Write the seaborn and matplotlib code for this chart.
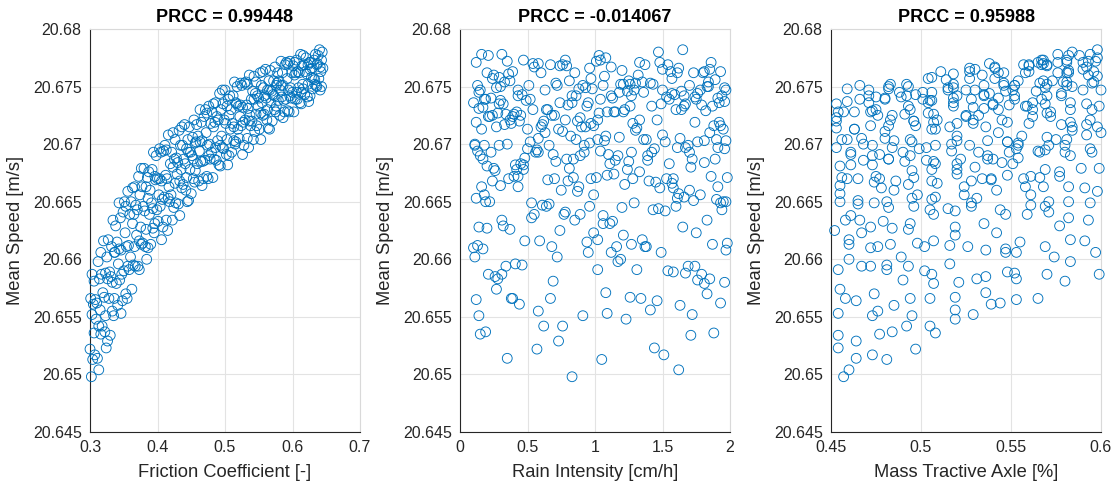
import matplotlib
matplotlib.use("Agg")
import matplotlib.pyplot as plt
import seaborn as sns
import pandas as pd

# Monte Carlo samples: three input parameters and the resulting mean speed
friction = [
    0.300, 0.301, 0.302, 0.303, 0.303, 0.304, 0.305, 0.306, 0.306, 0.307, 0.308, 0.309,
    0.310, 0.311, 0.312, 0.313, 0.313, 0.314, 0.315, 0.316, 0.316, 0.317, 0.318, 0.319,
    0.320, 0.321, 0.322, 0.323, 0.323, 0.324, 0.325, 0.326, 0.326, 0.327, 0.328, 0.329,
    0.330, 0.331, 0.332, 0.333, 0.333, 0.334, 0.335, 0.336, 0.336, 0.337, 0.338, 0.339,
    0.340, 0.341, 0.342, 0.343, 0.343, 0.344, 0.345, 0.346, 0.346, 0.347, 0.348, 0.349,
    0.350, 0.351, 0.352, 0.353, 0.353, 0.354, 0.355, 0.356, 0.356, 0.357, 0.358, 0.359,
    0.360, 0.361, 0.362, 0.363, 0.363, 0.364, 0.365, 0.366, 0.366, 0.367, 0.368, 0.369,
    0.370, 0.371, 0.372, 0.373, 0.373, 0.374, 0.375, 0.376, 0.376, 0.377, 0.378, 0.379,
    0.380, 0.381, 0.382, 0.383, 0.383, 0.384, 0.385, 0.386, 0.386, 0.387, 0.388, 0.389,
    0.390, 0.391, 0.392, 0.393, 0.393, 0.394, 0.395, 0.396, 0.396, 0.397, 0.398, 0.399,
    0.400, 0.401, 0.402, 0.403, 0.403, 0.404, 0.405, 0.406, 0.406, 0.407, 0.408, 0.409,
    0.410, 0.411, 0.412, 0.413, 0.413, 0.414, 0.415, 0.416, 0.416, 0.417, 0.418, 0.419,
    0.420, 0.421, 0.422, 0.423, 0.423, 0.424, 0.425, 0.426, 0.426, 0.427, 0.428, 0.429,
    0.430, 0.431, 0.432, 0.433, 0.433, 0.434, 0.435, 0.436, 0.436, 0.437, 0.438, 0.439,
    0.440, 0.441, 0.442, 0.443, 0.443, 0.444, 0.445, 0.446, 0.446, 0.447, 0.448, 0.449,
    0.450, 0.451, 0.452, 0.453, 0.453, 0.454, 0.455, 0.456, 0.456, 0.457, 0.458, 0.459,
    0.460, 0.461, 0.462, 0.463, 0.463, 0.464, 0.465, 0.466, 0.466, 0.467, 0.468, 0.469,
    0.470, 0.471, 0.472, 0.473, 0.473, 0.474, 0.475, 0.476, 0.476, 0.477, 0.478, 0.479,
    0.480, 0.481, 0.482, 0.483, 0.483, 0.484, 0.485, 0.486, 0.486, 0.487, 0.488, 0.489,
    0.490, 0.491, 0.492, 0.493, 0.493, 0.494, 0.495, 0.496, 0.496, 0.497, 0.498, 0.499,
    0.500, 0.501, 0.502, 0.503, 0.503, 0.504, 0.505, 0.506, 0.506, 0.507, 0.508, 0.509,
    0.510, 0.511, 0.512, 0.513, 0.513, 0.514, 0.515, 0.516, 0.516, 0.517, 0.518, 0.519,
    0.520, 0.521, 0.522, 0.523, 0.523, 0.524, 0.525, 0.526, 0.526, 0.527, 0.528, 0.529,
    0.530, 0.531, 0.532, 0.533, 0.533, 0.534, 0.535, 0.536, 0.536, 0.537, 0.538, 0.539,
    0.540, 0.541, 0.542, 0.543, 0.543, 0.544, 0.545, 0.546, 0.546, 0.547, 0.548, 0.549,
    0.550, 0.551, 0.552, 0.553, 0.553, 0.554, 0.555, 0.556, 0.556, 0.557, 0.558, 0.559,
    0.560, 0.561, 0.562, 0.563, 0.563, 0.564, 0.565, 0.566, 0.566, 0.567, 0.568, 0.569,
    0.570, 0.571, 0.572, 0.573, 0.573, 0.574, 0.575, 0.576, 0.576, 0.577, 0.578, 0.579,
    0.580, 0.581, 0.582, 0.583, 0.583, 0.584, 0.585, 0.586, 0.586, 0.587, 0.588, 0.589,
    0.590, 0.591, 0.592, 0.593, 0.593, 0.594, 0.595, 0.596, 0.596, 0.597, 0.598, 0.599,
    0.600, 0.601, 0.602, 0.603, 0.603, 0.604, 0.605, 0.606, 0.606, 0.607, 0.608, 0.609,
    0.610, 0.611, 0.612, 0.613, 0.613, 0.614, 0.615, 0.616, 0.616, 0.617, 0.618, 0.619,
    0.620, 0.621, 0.622, 0.623, 0.623, 0.624, 0.625, 0.626, 0.626, 0.627, 0.628, 0.629,
    0.630, 0.631, 0.632, 0.633, 0.633, 0.634, 0.635, 0.636, 0.636, 0.637, 0.638, 0.639,
    0.640, 0.641, 0.641, 0.642, 0.643, 0.643, 0.644, 0.645,
]

rain = [
    0.57, 1.34, 0.83, 1.72, 0.21, 1.05, 0.44, 1.88, 0.69, 1.51, 0.12, 1.23,
    1.93, 0.35, 1.17, 0.76, 1.62, 0.28, 1.41, 0.95, 0.15, 1.79, 0.62, 1.08,
    0.48, 1.26, 0.19, 1.67, 0.91, 1.44, 0.11, 1.85, 0.73, 1.02, 0.39, 1.58,
    1.71, 0.26, 1.38, 0.58, 1.96, 0.85, 0.14, 1.12, 0.67, 1.49, 0.32, 1.81,
    0.94, 1.63, 0.41, 1.29, 0.17, 1.76, 0.53, 1.09, 1.97, 0.31, 1.46, 0.78,
    1.54, 0.22, 0.99, 1.83, 0.64, 1.16, 0.38, 1.69, 0.87, 0.13, 1.31, 0.55,
    0.72, 1.95, 0.27, 1.11, 1.58, 0.46, 0.89, 1.37, 0.16, 1.74, 0.61, 1.21,
    1.43, 0.34, 1.86, 0.59, 1.02, 0.18, 1.65, 0.81, 1.27, 0.43, 1.98, 0.96,
    0.25, 1.52, 0.68, 1.91, 0.37, 1.19, 0.84, 1.61, 0.10, 1.33, 0.77, 1.70,
    1.87, 0.53, 1.24, 0.20, 1.47, 0.92, 1.75, 0.40, 1.06, 0.65, 1.39, 1.94,
    0.36, 1.13, 1.78, 0.50, 0.97, 1.60, 0.23, 1.35, 0.80, 1.90, 0.14, 1.04,
    1.66, 0.29, 1.09, 1.83, 0.57, 1.28, 0.74, 0.12, 1.50, 0.88, 1.97, 0.45,
    0.99, 1.42, 0.31, 1.71, 0.63, 1.20, 0.17, 1.57, 0.86, 1.93, 0.48, 1.14,
    1.81, 0.66, 1.30, 0.24, 1.06, 1.69, 0.42, 0.93, 1.48, 0.11, 1.22, 0.79,
    0.33, 1.55, 0.75, 1.96, 1.01, 0.19, 1.36, 0.58, 1.73, 0.90, 0.47, 1.27,
    1.62, 0.15, 1.18, 0.70, 1.89, 0.37, 1.45, 0.96, 0.26, 1.76, 0.61, 1.11,
    0.82, 1.40, 0.13, 1.64, 0.52, 1.25, 1.92, 0.30, 1.07, 0.71, 1.53, 0.21,
    1.39, 0.64, 1.85, 0.43, 1.03, 0.18, 1.58, 0.89, 1.26, 0.35, 1.72, 0.97,
    0.56, 1.21, 1.98, 0.27, 1.49, 0.84, 0.12, 1.67, 0.74, 1.15, 0.39, 1.81,
    1.33, 0.47, 1.76, 0.92, 0.20, 1.60, 1.08, 0.63, 1.91, 0.32, 1.44, 0.78,
    0.15, 1.28, 0.69, 1.87, 1.02, 0.41, 1.55, 0.24, 1.17, 0.86, 1.95, 0.54,
    1.70, 0.38, 1.12, 1.97, 0.60, 1.35, 0.11, 0.95, 1.52, 0.29, 1.83, 0.73,
    0.94, 1.63, 0.22, 1.41, 0.80, 1.88, 0.51, 1.10, 0.17, 1.74, 0.66, 1.30,
    1.46, 0.33, 1.79, 0.58, 1.19, 0.14, 1.61, 0.87, 1.32, 0.45, 1.93, 1.04,
    0.62, 1.24, 1.90, 0.19, 1.07, 0.76, 1.57, 0.34, 1.84, 0.99, 0.43, 1.66,
    1.13, 0.50, 1.73, 0.28, 1.38, 0.91, 0.10, 1.56, 0.70, 1.96, 0.40, 1.27,
    1.85, 0.23, 1.02, 1.50, 0.65, 1.31, 0.37, 1.78, 0.16, 1.20, 0.83, 1.64,
    0.44, 1.59, 0.81, 1.22, 1.94, 0.55, 1.09, 0.13, 1.42, 0.71, 1.80, 0.30,
    1.25, 0.68, 1.97, 0.35, 1.06, 1.53, 0.20, 0.89, 1.70, 0.49, 1.14, 0.76,
    0.18, 1.48, 0.97, 1.82, 0.58, 1.29, 0.42, 1.66, 1.01, 0.27, 1.91, 0.85,
    1.36, 0.74, 1.15, 0.25, 1.86, 0.52, 1.61, 0.14, 1.04, 1.75, 0.39, 0.93,
    0.60, 1.92, 0.31, 1.18, 1.67, 0.79, 1.43, 0.21, 0.98, 1.54, 0.46, 1.81,
    1.08, 0.36, 1.74, 0.67, 1.26, 1.96, 0.12, 1.50, 0.83, 1.33, 0.29, 1.62,
    0.88, 1.57, 0.47, 1.21, 1.89, 0.16, 0.72, 1.37, 1.84, 0.54, 1.03, 0.24,
    1.65, 0.43, 1.12, 1.93, 0.78, 0.30, 1.47, 0.96,
]

mass_axle = [
    0.497, 0.565, 0.457, 0.529, 0.599, 0.481, 0.539, 0.508, 0.580, 0.473, 0.553, 0.519,
    0.544, 0.464, 0.583, 0.505, 0.460, 0.553, 0.519, 0.597, 0.477, 0.570, 0.492, 0.536,
    0.591, 0.519, 0.484, 0.552, 0.495, 0.454, 0.574, 0.531, 0.464, 0.583, 0.505, 0.548,
    0.454, 0.536, 0.569, 0.476, 0.521, 0.593, 0.473, 0.553, 0.494, 0.547, 0.577, 0.507,
    0.555, 0.485, 0.516, 0.594, 0.547, 0.490, 0.582, 0.454, 0.536, 0.506, 0.464, 0.571,
    0.502, 0.582, 0.542, 0.474, 0.569, 0.526, 0.458, 0.493, 0.598, 0.516, 0.481, 0.559,
    0.489, 0.571, 0.455, 0.535, 0.591, 0.481, 0.547, 0.502, 0.582, 0.467, 0.561, 0.519,
    0.544, 0.472, 0.577, 0.507, 0.454, 0.561, 0.519, 0.589, 0.483, 0.568, 0.498, 0.528,
    0.599, 0.519, 0.476, 0.558, 0.493, 0.460, 0.566, 0.531, 0.472, 0.577, 0.507, 0.542,
    0.460, 0.528, 0.569, 0.484, 0.515, 0.595, 0.467, 0.561, 0.494, 0.539, 0.583, 0.505,
    0.557, 0.479, 0.524, 0.594, 0.539, 0.496, 0.580, 0.460, 0.528, 0.506, 0.472, 0.565,
    0.508, 0.580, 0.548, 0.466, 0.569, 0.534, 0.452, 0.495, 0.592, 0.524, 0.481, 0.551,
    0.498, 0.566, 0.458, 0.530, 0.600, 0.482, 0.540, 0.509, 0.581, 0.474, 0.554, 0.520,
    0.545, 0.465, 0.584, 0.506, 0.461, 0.554, 0.520, 0.598, 0.478, 0.571, 0.493, 0.537,
    0.592, 0.520, 0.485, 0.553, 0.496, 0.455, 0.575, 0.532, 0.465, 0.584, 0.506, 0.549,
    0.455, 0.537, 0.570, 0.477, 0.522, 0.594, 0.474, 0.554, 0.495, 0.548, 0.578, 0.508,
    0.556, 0.486, 0.517, 0.595, 0.548, 0.491, 0.583, 0.455, 0.537, 0.507, 0.465, 0.572,
    0.503, 0.583, 0.543, 0.475, 0.570, 0.527, 0.459, 0.494, 0.599, 0.517, 0.482, 0.560,
    0.490, 0.572, 0.456, 0.536, 0.592, 0.482, 0.548, 0.503, 0.583, 0.468, 0.562, 0.520,
    0.545, 0.473, 0.578, 0.508, 0.455, 0.562, 0.520, 0.590, 0.484, 0.569, 0.499, 0.529,
    0.600, 0.520, 0.477, 0.559, 0.494, 0.461, 0.567, 0.532, 0.473, 0.578, 0.508, 0.543,
    0.461, 0.529, 0.570, 0.485, 0.516, 0.596, 0.468, 0.562, 0.495, 0.540, 0.584, 0.506,
    0.558, 0.480, 0.525, 0.595, 0.540, 0.497, 0.581, 0.461, 0.529, 0.507, 0.473, 0.566,
    0.509, 0.581, 0.549, 0.467, 0.570, 0.535, 0.453, 0.496, 0.593, 0.525, 0.482, 0.552,
    0.496, 0.564, 0.456, 0.528, 0.598, 0.480, 0.538, 0.507, 0.579, 0.472, 0.552, 0.518,
    0.543, 0.463, 0.582, 0.504, 0.459, 0.552, 0.518, 0.596, 0.476, 0.569, 0.491, 0.535,
    0.590, 0.518, 0.483, 0.551, 0.494, 0.453, 0.573, 0.530, 0.463, 0.582, 0.504, 0.547,
    0.453, 0.535, 0.568, 0.475, 0.520, 0.592, 0.472, 0.552, 0.493, 0.546, 0.576, 0.506,
    0.554, 0.484, 0.515, 0.593, 0.546, 0.489, 0.581, 0.453, 0.535, 0.505, 0.463, 0.570,
    0.501, 0.581, 0.541, 0.473, 0.568, 0.525, 0.457, 0.492, 0.597, 0.515, 0.480, 0.558,
    0.488, 0.570, 0.454, 0.534, 0.590, 0.480, 0.546, 0.501, 0.581, 0.466, 0.560, 0.518,
    0.543, 0.471, 0.576, 0.506, 0.453, 0.560, 0.518, 0.588, 0.482, 0.567, 0.497, 0.527,
    0.598, 0.518, 0.475, 0.557, 0.492, 0.459, 0.565, 0.530, 0.471, 0.576, 0.506, 0.541,
    0.459, 0.527, 0.568, 0.483, 0.514, 0.594, 0.466, 0.560, 0.493, 0.538, 0.582, 0.504,
    0.598, 0.471, 0.541, 0.511, 0.567, 0.482, 0.584, 0.527,
]

mean_speed = [
    20.6522, 20.6566, 20.6498, 20.6552, 20.6587, 20.6513, 20.6561, 20.6536, 20.6581, 20.6517, 20.6565, 20.6548,
    20.6562, 20.6514, 20.6598, 20.6542, 20.6504, 20.6583, 20.6556, 20.6606, 20.6535, 20.6587, 20.6542, 20.6571,
    20.6616, 20.6567, 20.6537, 20.6588, 20.6551, 20.6523, 20.6602, 20.6583, 20.6529, 20.6617, 20.6566, 20.6589,
    20.6534, 20.6585, 20.6611, 20.6555, 20.6580, 20.6634, 20.6551, 20.6606, 20.6566, 20.6606, 20.6629, 20.6579,
    20.6615, 20.6560, 20.6596, 20.6649, 20.6609, 20.6582, 20.6636, 20.6553, 20.6608, 20.6587, 20.6564, 20.6641,
    20.6590, 20.6650, 20.6623, 20.6570, 20.6646, 20.6611, 20.6566, 20.6594, 20.6659, 20.6612, 20.6591, 20.6639,
    20.6602, 20.6650, 20.6574, 20.6631, 20.6662, 20.6595, 20.6639, 20.6611, 20.6663, 20.6594, 20.6647, 20.6621,
    20.6643, 20.6594, 20.6672, 20.6616, 20.6591, 20.6656, 20.6628, 20.6679, 20.6613, 20.6663, 20.6614, 20.6646,
    20.6679, 20.6642, 20.6611, 20.6663, 20.6626, 20.6600, 20.6671, 20.6653, 20.6610, 20.6676, 20.6639, 20.6660,
    20.6613, 20.6649, 20.6678, 20.6627, 20.6644, 20.6693, 20.6623, 20.6672, 20.6631, 20.6669, 20.6690, 20.6643,
    20.6670, 20.6633, 20.6656, 20.6696, 20.6670, 20.6646, 20.6693, 20.6617, 20.6668, 20.6652, 20.6628, 20.6694,
    20.6654, 20.6699, 20.6673, 20.6634, 20.6695, 20.6670, 20.6625, 20.6653, 20.6708, 20.6663, 20.6650, 20.6683,
    20.6656, 20.6693, 20.6634, 20.6680, 20.6710, 20.6645, 20.6687, 20.6666, 20.6704, 20.6649, 20.6688, 20.6674,
    20.6684, 20.6648, 20.6712, 20.6668, 20.6638, 20.6699, 20.6678, 20.6715, 20.6662, 20.6699, 20.6665, 20.6687,
    20.6717, 20.6683, 20.6660, 20.6696, 20.6671, 20.6650, 20.6704, 20.6693, 20.6651, 20.6715, 20.6678, 20.6693,
    20.6657, 20.6690, 20.6706, 20.6670, 20.6687, 20.6721, 20.6667, 20.6701, 20.6677, 20.6702, 20.6717, 20.6683,
    20.6707, 20.6668, 20.6694, 20.6730, 20.6702, 20.6685, 20.6719, 20.6664, 20.6703, 20.6685, 20.6670, 20.6724,
    20.6686, 20.6730, 20.6710, 20.6672, 20.6727, 20.6699, 20.6670, 20.6690, 20.6733, 20.6700, 20.6687, 20.6718,
    20.6693, 20.6728, 20.6671, 20.6715, 20.6735, 20.6687, 20.6719, 20.6697, 20.6736, 20.6686, 20.6724, 20.6703,
    20.6721, 20.6682, 20.6744, 20.6699, 20.6681, 20.6730, 20.6707, 20.6747, 20.6697, 20.6735, 20.6696, 20.6721,
    20.6747, 20.6718, 20.6691, 20.6733, 20.6704, 20.6682, 20.6739, 20.6725, 20.6690, 20.6742, 20.6713, 20.6730,
    20.6693, 20.6718, 20.6742, 20.6703, 20.6715, 20.6754, 20.6700, 20.6736, 20.6702, 20.6735, 20.6750, 20.6713,
    20.6733, 20.6705, 20.6724, 20.6753, 20.6734, 20.6716, 20.6751, 20.6691, 20.6732, 20.6719, 20.6699, 20.6753,
    20.6721, 20.6754, 20.6734, 20.6705, 20.6752, 20.6731, 20.6697, 20.6720, 20.6760, 20.6725, 20.6716, 20.6739,
    20.6720, 20.6746, 20.6704, 20.6739, 20.6759, 20.6711, 20.6744, 20.6726, 20.6754, 20.6716, 20.6742, 20.6733,
    20.6740, 20.6713, 20.6762, 20.6727, 20.6704, 20.6751, 20.6736, 20.6763, 20.6725, 20.6749, 20.6726, 20.6742,
    20.6765, 20.6740, 20.6721, 20.6747, 20.6730, 20.6714, 20.6755, 20.6747, 20.6713, 20.6764, 20.6736, 20.6746,
    20.6720, 20.6743, 20.6755, 20.6730, 20.6742, 20.6767, 20.6728, 20.6751, 20.6733, 20.6753, 20.6762, 20.6738,
    20.6755, 20.6725, 20.6747, 20.6772, 20.6751, 20.6741, 20.6762, 20.6723, 20.6751, 20.6738, 20.6728, 20.6769,
    20.6739, 20.6771, 20.6757, 20.6729, 20.6770, 20.6747, 20.6728, 20.6742, 20.6772, 20.6749, 20.6740, 20.6762,
    20.6745, 20.6768, 20.6728, 20.6760, 20.6771, 20.6739, 20.6762, 20.6745, 20.6773, 20.6739, 20.6763, 20.6749,
    20.6762, 20.6736, 20.6778, 20.6745, 20.6735, 20.6768, 20.6752, 20.6777, 20.6748, 20.6769, 20.6743, 20.6763,
    20.6775, 20.6761, 20.6741, 20.6769, 20.6752, 20.6737, 20.6771, 20.6765, 20.6742, 20.6771, 20.6758, 20.6766,
    20.6748, 20.6757, 20.6773, 20.6752, 20.6756, 20.6778, 20.6751, 20.6769, 20.6750, 20.6770, 20.6777, 20.6757,
    20.6782, 20.6747, 20.6767, 20.6763, 20.6773, 20.6750, 20.6780, 20.6766,
]

prcc_values = ["0.99448", "-0.014067", "0.95988"]
x_labels = ["Friction Coefficient [-]", "Rain Intensity [cm/h]", "Mass Tractive Axle [%]"]
x_limits = [(0.3, 0.7), (0.0, 2.0), (0.45, 0.6)]
x_ticks = [[0.3, 0.4, 0.5, 0.6, 0.7], [0, 0.5, 1, 1.5, 2], [0.45, 0.5, 0.55, 0.6]]
x_ticklabels = [["0.3", "0.4", "0.5", "0.6", "0.7"],
                ["0", "0.5", "1", "1.5", "2"],
                ["0.45", "0.5", "0.55", "0.6"]]
y_ticks = [20.645, 20.65, 20.655, 20.66, 20.665, 20.67, 20.675, 20.68]
y_ticklabels = ["20.645", "20.65", "20.655", "20.66", "20.665", "20.67", "20.675", "20.68"]

samples = pd.DataFrame({
    "friction": friction,
    "rain": rain,
    "mass": mass_axle,
    "speed": mean_speed,
})
x_columns = ["friction", "rain", "mass"]

sns.set_style("white")
plt.rcParams["font.family"] = ["Liberation Sans", "DejaVu Sans"]

marker_color = "#0072BD"
text_color = "#262626"

fig = plt.figure(figsize=(11.15, 4.88), dpi=100)
lefts = [90 / 1115, 460 / 1115, 831 / 1115]
width = 270 / 1115
bottom = 56 / 488
height = 403 / 488

for i in range(3):
    ax = fig.add_axes([lefts[i], bottom, width, height])
    sns.scatterplot(data=samples, x=x_columns[i], y="speed", ax=ax,
                    marker="o", s=50, facecolor="none",
                    edgecolor=marker_color, linewidth=0.65, clip_on=False,
                    zorder=3)
    ax.set_xlim(*x_limits[i])
    ax.set_ylim(20.645, 20.68)
    ax.set_xticks(x_ticks[i])
    ax.set_xticklabels(x_ticklabels[i])
    ax.set_yticks(y_ticks)
    ax.set_yticklabels(y_ticklabels)
    ax.grid(True, color="#e3e3e3", linewidth=0.8, zorder=0)
    ax.set_axisbelow(True)
    for side in ["top", "right", "bottom", "left"]:
        ax.spines[side].set_visible(True)
        ax.spines[side].set_color(text_color if side in ("bottom", "left") else "#d9d9d9")
        ax.spines[side].set_linewidth(0.8)
    ax.tick_params(axis="both", direction="in", length=3, width=0.6,
                   colors=text_color, labelsize=11.5, pad=6)
    ax.set_xlabel(x_labels[i], fontsize=13.2, color=text_color, labelpad=6)
    ax.set_ylabel("Mean Speed [m/s]", fontsize=13.2, color=text_color, labelpad=6)
    ax.set_title(f"PRCC = {prcc_values[i]}", fontsize=13, fontweight="bold",
                 color="black", pad=5)

fig.savefig("out.png", dpi=100)
